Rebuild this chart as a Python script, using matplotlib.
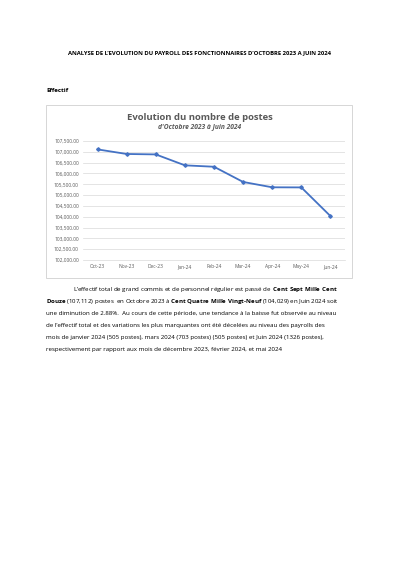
import matplotlib.pyplot as plt
from matplotlib.patches import Rectangle

# Donnees
mois = ["Oct-23", "Nov-23", "Dec-23", "Jan-24", "Feb-24", "Mar-24", "Apr-24", "May-24", "Jun-24"]
postes = [107112, 106900, 106880, 106375, 106310, 105607, 105360, 105355, 104029]
yticks = list(range(102000, 107501, 500))

paragraphe = [
    "L\u2019effectif total de grand commis et de personnel r\u00e9gulier est pass\u00e9 de  $\\bf{Cent\\ Sept\\ Mille\\ Cent}$",
    "$\\bf{Douze}$ (107,112) postes  en Octobre 2023 \u00e0 $\\bf{Cent\\ Quatre\\ Mille\\ Vingt\u2010Neuf}$ (104,029) en Juin 2024 soit",
    "une diminution de 2.88%.  Au cours de cette p\u00e9riode, une tendance \u00e0 la baisse fut observ\u00e9e au niveau",
    "de l\u2019effectif total et des variations les plus marquantes ont \u00e9t\u00e9 d\u00e9cel\u00e9es au niveau des payrolls des",
    "mois de janvier 2024 (505 postes), mars 2024 (703 postes) (505 postes) et Juin 2024 (1326 postes),",
    "respectivement par rapport aux mois de d\u00e9cembre 2023, f\u00e9vrier 2024, et mai 2024",
]

plt.rcParams["font.family"] = ["Open Sans", "DejaVu Sans"]
plt.rcParams["mathtext.fontset"] = "custom"
plt.rcParams["mathtext.rm"] = "Open Sans"
plt.rcParams["mathtext.bf"] = "Open Sans:bold"
fig = plt.figure(figsize=(4, 5.66), dpi=100)

fig.text(0.5, 1 - 53 / 566, "ANALYSE DE L\u2019EVOLUTION DU PAYROLL DES FONCTIONNAIRES D\u2019OCTOBRE 2023 A JUIN 2024",
         ha="center", va="center", fontsize=4.2, fontweight="bold")
fig.text(46 / 400, 1 - 90 / 566, "Effectif", ha="left", va="center", fontsize=4.5, fontweight="bold")

# Cadre du graphique
fig.patches.append(Rectangle((46 / 400, 1 - 278 / 566), 306 / 400, 173 / 566,
                             transform=fig.transFigure, fill=False, edgecolor="#d0d0d0", lw=0.6))
fig.text(0.5, 1 - 117 / 566, "Evolution du nombre de postes", ha="center", va="center",
         fontsize=6.8, fontweight="bold", color="#595959")
fig.text(0.5, 1 - 127 / 566, "d'Octobre 2023 \u00e0 Juin 2024", ha="center", va="center",
         fontsize=4.8, fontweight="bold", style="italic", color="#595959")

ax = fig.add_axes([83 / 400, 1 - 260 / 566, 262 / 400, 119 / 566])
ax.plot(mois, postes, color="#4472c4", lw=1.3, marker="D", ms=1.8)
ax.set_ylim(102000, 107500)
ax.set_yticks(yticks)
ax.set_yticklabels([f"{v:,.2f}" for v in yticks])
ax.set_xlim(-0.5, len(mois) - 0.5)
ax.grid(axis="y", color="#d9d9d9", lw=0.5)
ax.set_axisbelow(True)
for s in ["top", "right", "left"]:
    ax.spines[s].set_visible(False)
ax.spines["bottom"].set_color("#d9d9d9")
ax.spines["bottom"].set_linewidth(0.5)
ax.tick_params(length=0, labelsize=3.5, labelcolor="#595959", pad=3)

# Texte du paragraphe
ys = [289, 301, 313, 325, 337, 349]
for i, (ligne, y) in enumerate(zip(paragraphe, ys)):
    x = 73 if i == 0 else 46
    fig.text(x / 400, 1 - y / 566, ligne, ha="left", va="center", fontsize=4.4)

fig.savefig("out.png", dpi=100)
